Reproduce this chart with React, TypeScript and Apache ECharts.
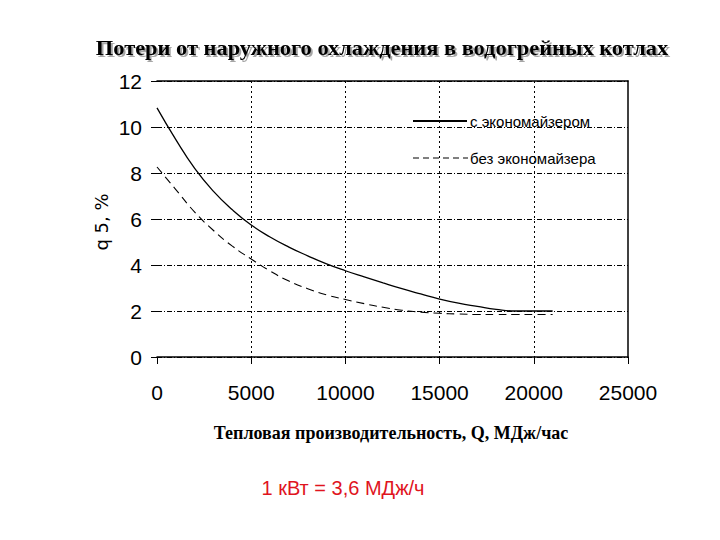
import React, { useEffect, useRef } from "react";
import * as echarts from "echarts";

const xTicks = [0, 5000, 10000, 15000, 20000, 25000];
const yTicks = [0, 2, 4, 6, 8, 10, 12];

const curveX = [0, 1000, 2000, 3000, 4000, 5000, 6000, 7000, 8000, 9000, 10000, 11000, 12000, 13000, 14000, 15000, 16000, 17000, 18000, 19000, 20000, 21000];
const withEconY = [10.83, 9.45, 8.2, 7.2, 6.4, 5.74, 5.22, 4.78, 4.4, 4.05, 3.75, 3.48, 3.22, 2.97, 2.74, 2.52, 2.34, 2.2, 2.07, 2.0, 2.0, 2.0];
const withoutEconY = [8.26, 7.28, 6.3, 5.5, 4.82, 4.26, 3.74, 3.3, 2.97, 2.7, 2.5, 2.32, 2.16, 2.03, 1.95, 1.9, 1.87, 1.85, 1.85, 1.85, 1.85, 1.85];

const seriesNames = ["с экономайзером", "без экономайзера"];
const titleText = "Потери от наружного охлаждения в водогрейных котлах";
const xTitle = "Тепловая производительность, Q, МДж/час";
const yTitle = "q 5, %";
const noteText = "1 кВт = 3,6 МДж/ч";

const tickFont = "'Liberation Sans Narrow', 'Liberation Sans', sans-serif";

export default function App() {
  const ref = useRef<HTMLDivElement>(null);
  useEffect(() => {
    if (!ref.current) return;
    const chart = echarts.init(ref.current, null, { renderer: "svg" });
    const pair = (xs: number[], ys: number[]) => xs.map((x, i) => [x, ys[i]]);
    chart.setOption({
      animation: false,
      backgroundColor: "#ffffff",
      grid: { left: 157, right: 92, top: 81, bottom: 183 },
      xAxis: [
        {
          type: "value",
          min: xTicks[0],
          max: xTicks[xTicks.length - 1],
          interval: 5000,
          axisLine: { show: true, lineStyle: { color: "#000", width: 1.5 } },
          axisTick: { show: true, length: 7, lineStyle: { color: "#000" } },
          axisLabel: {
            color: "#000",
            fontFamily: tickFont,
            fontSize: 21,
            margin: 25,
            formatter: (v: number) => String(v),
          },
          splitLine: {
            show: true,
            showMinLine: false,
            showMaxLine: false,
            lineStyle: { color: "#000", type: [2, 3], width: 1 },
          },
        },
        {
          type: "value",
          position: "top",
          min: 0,
          max: 25000,
          axisLine: { show: true, onZero: false, lineStyle: { color: "#000", width: 1.5 } },
          axisTick: { show: false },
          axisLabel: { show: false },
          splitLine: { show: false },
        },
      ],
      yAxis: [
        {
          type: "value",
          min: yTicks[0],
          max: yTicks[yTicks.length - 1],
          interval: 2,
          axisLine: { show: false },
          axisTick: { show: true, length: 6, lineStyle: { color: "#000" } },
          axisLabel: {
            color: "#000",
            fontFamily: tickFont,
            fontSize: 21,
            margin: 15,
            formatter: (v: number) => String(v),
          },
          splitLine: {
            show: true,
            lineStyle: { color: "#000", type: [5, 2, 1, 2], width: 1 },
          },
        },
        {
          type: "value",
          position: "right",
          min: 0,
          max: 12,
          axisLine: { show: true, onZero: false, lineStyle: { color: "#000", width: 1.5 } },
          axisTick: { show: false },
          axisLabel: { show: false },
          splitLine: { show: false },
        },
      ],
      series: [
        {
          name: seriesNames[0],
          type: "line",
          smooth: 0.5,
          showSymbol: false,
          data: pair(curveX, withEconY),
          lineStyle: { color: "#000", width: 1.3, type: "solid" },
        },
        {
          name: seriesNames[1],
          type: "line",
          smooth: 0.5,
          showSymbol: false,
          data: pair(curveX, withoutEconY),
          lineStyle: { color: "#000", width: 1.1, type: [8, 5] },
        },
      ],
      graphic: [
        {
          type: "text",
          x: 382,
          y: 48,
          scaleX: 1.12,
          style: {
            text: titleText,
            font: "bold 20px 'Liberation Serif'",
            fill: "#000",
            align: "center",
            verticalAlign: "middle",
            textShadowColor: "rgba(0,0,0,0.35)",
            textShadowOffsetX: 2,
            textShadowOffsetY: 2,
            textShadowBlur: 1,
          },
        },
        {
          type: "text",
          x: 391,
          y: 433,
          style: {
            text: xTitle,
            font: "bold 18px 'Liberation Serif'",
            fill: "#000",
            align: "center",
            verticalAlign: "middle",
          },
        },
        {
          type: "text",
          x: 101,
          y: 222,
          rotation: Math.PI / 2,
          style: {
            text: yTitle,
            font: "18px 'DejaVu Sans'",
            fill: "#000",
            align: "center",
            verticalAlign: "middle",
          },
        },
        {
          type: "text",
          x: 343,
          y: 488,
          style: {
            text: noteText,
            font: "20px 'Liberation Sans'",
            fill: "#e0141e",
            align: "center",
            verticalAlign: "middle",
          },
        },
        {
          type: "line",
          shape: { x1: 413, y1: 121, x2: 467, y2: 121 },
          style: { stroke: "#000", lineWidth: 2 },
        },
        {
          type: "text",
          x: 470,
          y: 121,
          style: {
            text: seriesNames[0],
            font: "15px 'Liberation Sans'",
            fill: "#000",
            align: "left",
            verticalAlign: "middle",
          },
        },
        {
          type: "line",
          shape: { x1: 413, y1: 158, x2: 468, y2: 158 },
          style: { stroke: "#000", lineWidth: 1, lineDash: [6, 4] },
        },
        {
          type: "text",
          x: 470,
          y: 158,
          style: {
            text: seriesNames[1],
            font: "15px 'Liberation Sans'",
            fill: "#000",
            align: "left",
            verticalAlign: "middle",
          },
        },
      ],
    });
    return () => chart.dispose();
  }, []);
  return <div ref={ref} style={{ width: 720, height: 540, position: "absolute", left: 0, top: 0 }} />;
}
